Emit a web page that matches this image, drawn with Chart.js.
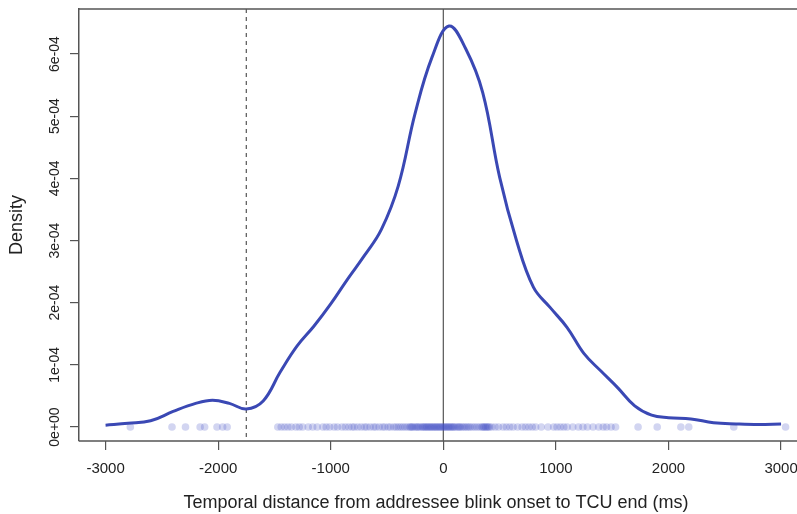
<!DOCTYPE html>
<html>
<head>
<meta charset="utf-8">
<script src="https://cdn.jsdelivr.net/npm/chart.js@4.4.1/dist/chart.umd.min.js"></script>
<style>
  html, body { margin: 0; padding: 0; background: #ffffff; }
  #chart { display: block; }
</style>
</head>
<body>
<canvas id="chart" width="797" height="514"></canvas>
<script>
// ----------------- Datos -----------------

// Curva de densidad (x en ms, y en unidades de 1e-04)
const densityX = [-3000, -2800, -2600, -2400, -2200, -2050, -1900, -1750, -1600, -1450,
  -1300, -1150, -1000, -850, -700, -550, -400, -250, -100, 50,
  200, 350, 500, 650, 800, 950, 1100, 1250, 1400, 1550,
  1700, 1850, 2000, 2200, 2400, 2600, 2800, 3000];
const densityY = [0.03, 0.06, 0.10, 0.25, 0.38, 0.43, 0.38, 0.29, 0.42, 0.88,
  1.30, 1.62, 1.98, 2.38, 2.76, 3.18, 3.88, 5.05, 5.95, 6.45,
  6.08, 5.38, 4.02, 3.00, 2.25, 1.92, 1.60, 1.18, 0.90, 0.63,
  0.34, 0.19, 0.15, 0.13, 0.07, 0.05, 0.04, 0.05];

// Observaciones individuales (rug en y = 0)
const rugX = [-2780, -2410, -2290, -2160, -2120, -2010, -1960, -1920,
  -1470, -1440, -1410, -1380, -1350, -1310, -1280, -1250, -1200, -1160, -1120,
  -1070, -1040, -1010, -970, -940, -900,
  -870, -840, -810, -790, -760, -730, -700, -680, -650, -620, -600, -570, -540,
  -520, -490, -470, -440, -420, -400, -380, -360, -340, -320, -300,
  -290, -280, -270, -255, -240, -230, -220, -205, -190, -180, -170, -160, -150,
  -140, -130, -120, -110, -100, -90, -80, -70, -60, -50, -40, -30, -20, -10,
  0, 10, 20, 30, 40, 50, 60, 70, 80, 90, 100, 115, 130, 140, 150, 165, 180,
  195, 210, 225, 240, 260, 280, 300, 320, 340, 350, 360, 370, 380, 390, 400, 410,
  430, 460, 490, 530, 560, 590, 620, 660, 700, 730, 760, 790, 820, 870, 930,
  980, 1010, 1040, 1070, 1100, 1150, 1200, 1240, 1280, 1330, 1380, 1420, 1450,
  1490, 1530,
  1730, 1900, 2110, 2180, 2580, 3040];

// Líneas de referencia
const zeroLineX = 0;
const cutoffLineX = -1750;

// Ticks
const xTickValues = [-3000, -2000, -1000, 0, 1000, 2000, 3000];
const xTickLabels = ['-3000', '-2000', '-1000', '0', '1000', '2000', '3000'];
const yTickValues = [0, 1, 2, 3, 4, 5, 6];
const yTickLabels = ['0e+00', '1e-04', '2e-04', '3e-04', '4e-04', '5e-04', '6e-04'];

// ----------------- Estilos -----------------

const palette = {
  curve: '#3a48b4',
  rug: 'rgba(65, 80, 195, 0.24)',
  axis: '#555555',
  text: '#222222',
  ref: '#555555'
};

const FONT = '"Liberation Sans", Arial, Helvetica, sans-serif';

// ----------------- Plugin: caja y líneas verticales -----------------

const refLinesPlugin = {
  id: 'refLines',
  beforeDatasetsDraw(chart) {
    const { ctx, chartArea, scales } = chart;
    const x0 = scales.x.getPixelForValue(zeroLineX);
    const xc = scales.x.getPixelForValue(cutoffLineX);
    ctx.save();
    ctx.strokeStyle = palette.ref;
    ctx.lineWidth = 1.2;
    ctx.beginPath();
    ctx.moveTo(x0, chartArea.top);
    ctx.lineTo(x0, chartArea.bottom);
    ctx.stroke();
    ctx.setLineDash([4, 4]);
    ctx.beginPath();
    ctx.moveTo(xc, chartArea.top);
    ctx.lineTo(xc, chartArea.bottom);
    ctx.stroke();
    ctx.setLineDash([]);
    // bordes superior e inferior de la caja (la caja sigue más allá del lienzo)
    ctx.strokeStyle = palette.axis;
    ctx.lineWidth = 1.5;
    ctx.beginPath();
    ctx.moveTo(chartArea.left, chartArea.top);
    ctx.lineTo(chart.width, chartArea.top);
    ctx.moveTo(chartArea.left, chartArea.bottom);
    ctx.lineTo(chart.width, chartArea.bottom);
    ctx.stroke();
    ctx.restore();
  }
};

// ----------------- Gráfico -----------------

const densityPoints = densityX.map((x, i) => ({ x, y: densityY[i] }));
const rugPoints = rugX.map(x => ({ x, y: 0 }));

new Chart(document.getElementById('chart').getContext('2d'), {
  type: 'scatter',
  data: {
    datasets: [
      {
        label: 'Densidad',
        data: densityPoints,
        showLine: true,
        borderColor: palette.curve,
        borderWidth: 3,
        tension: 0.4,
        pointRadius: 0,
        fill: false,
        clip: false,
        order: 1
      },
      {
        label: 'Observaciones',
        data: rugPoints,
        showLine: false,
        pointRadius: 3.8,
        pointBackgroundColor: palette.rug,
        pointBorderWidth: 0,
        clip: false,
        order: 2
      }
    ]
  },
  options: {
    responsive: false,
    animation: false,
    layout: { padding: { top: 9, right: 0, left: 0, bottom: 0 } },
    plugins: {
      legend: { display: false },
      tooltip: { enabled: false }
    },
    scales: {
      x: {
        type: 'linear',
        min: -3236,
        max: 3106,
        afterFit: (scale) => {
          scale.height = 73;
          scale.paddingLeft = 0;
          scale.paddingRight = 0;
        },
        afterBuildTicks: (scale) => { scale.ticks = xTickValues.map(v => ({ value: v })); },
        grid: { drawOnChartArea: false, drawTicks: true, tickLength: 9, color: palette.axis, lineWidth: 1.2 },
        border: { display: false },
        ticks: {
          autoSkip: false,
          maxRotation: 0,
          padding: 10,
          color: palette.text,
          font: { family: FONT, size: 15 },
          callback: (value) => {
            const i = xTickValues.indexOf(value);
            return i >= 0 ? xTickLabels[i] : '';
          }
        },
        title: {
          display: true,
          text: 'Temporal distance from addressee blink onset to TCU end (ms)',
          color: palette.text,
          font: { family: FONT, size: 18 },
          padding: { top: 0, bottom: 0 }
        }
      },
      y: {
        type: 'linear',
        min: -0.225,
        max: 6.724,
        afterFit: (scale) => {
          scale.width = 79;
          scale.paddingTop = 0;
          scale.paddingBottom = 0;
        },
        afterBuildTicks: (scale) => { scale.ticks = yTickValues.map(v => ({ value: v })); },
        grid: { drawOnChartArea: false, drawTicks: true, tickLength: 9, color: palette.axis, lineWidth: 1.2 },
        border: { display: true, color: palette.axis, width: 1.5 },
        ticks: {
          autoSkip: false,
          minRotation: 90,
          maxRotation: 90,
          crossAlign: 'center',
          padding: -5,
          color: palette.text,
          font: { family: FONT, size: 14 },
          callback: (value) => {
            const i = yTickValues.indexOf(value);
            return i >= 0 ? yTickLabels[i] : '';
          }
        },
        title: {
          display: true,
          text: 'Density',
          color: palette.text,
          font: { family: FONT, size: 18 },
          padding: { top: 6, bottom: 0 }
        }
      }
    }
  },
  plugins: [refLinesPlugin]
});
</script>
</body>
</html>
